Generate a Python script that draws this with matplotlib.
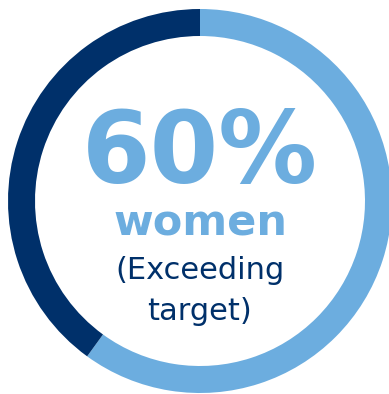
import matplotlib.pyplot as plt

labels = ["Women", "Men"]
shares = [60, 40]
colors = ["#6CADDF", "#00306A"]

headline = "60%"
subject = "women"
note = ["(Exceeding", "target)"]

W, H = 389, 394
fig = plt.figure(figsize=(W / 100, H / 100), dpi=100)
ax = fig.add_axes([0, 0, 1, 1])

# Donut ring, starts at 12 o'clock going clockwise
ax.pie(
    shares,
    colors=colors,
    startangle=90,
    counterclock=False,
    center=(200, H - 201),
    radius=192,
    wedgeprops=dict(width=27, linewidth=0),
    frame=True,
)
ax.set_xlim(0, W)
ax.set_ylim(0, H)
ax.axis("off")

# Centre labels (y given as pixel rows from top)
def _txt(y, s, size, color, weight):
    ax.text(200, H - y, s, ha="center", va="baseline",
            fontsize=size, color=color, fontweight=weight,
            family="DejaVu Sans")

_txt(183, headline, 71, colors[0], "bold")
_txt(235, subject, 31, colors[0], "bold")
_txt(279, note[0], 22, colors[1], "normal")
_txt(320, note[1], 22, colors[1], "normal")

fig.savefig("out.png", dpi=100)
